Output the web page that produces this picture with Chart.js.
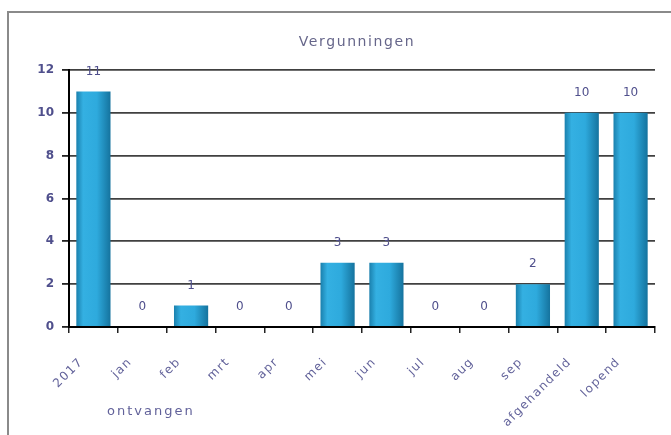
<!DOCTYPE html>
<html>
<head>
<meta charset="utf-8">
<script src="https://cdn.jsdelivr.net/npm/chart.js@4.4.0/dist/chart.umd.min.js"></script>
<style>
html,body{margin:0;padding:0;background:#fff;}
#wrap{position:relative;width:671px;height:435px;overflow:hidden;}
#frame{position:absolute;left:7px;top:11px;width:680px;height:440px;border:2px solid #8a8a8a;box-sizing:border-box;}
canvas{position:absolute;left:0;top:0;}
</style>
</head>
<body>
<div id="wrap">
<div id="frame"></div>
<canvas id="c" width="671" height="435"></canvas>
</div>
<script>
const categories = ["2017","jan","feb","mrt","apr","mei","jun","jul","aug","sep","afgehandeld","lopend"];
const values = [11,0,1,0,0,3,3,0,0,2,10,10];
const yTicks = [0,2,4,6,8,10,12];
const chartTitle = "Vergunningen";
const axisNote = "ontvangen";

const textColor = "#4f4f8c";
const labelColor = "#62629a";

const barGradient = (ctx) => {
  const chart = ctx.chart;
  const xs = chart.scales && chart.scales.x;
  if (!chart.chartArea || !xs) return "#2ba6d6";
  const cx = xs.getPixelForValue(ctx.dataIndex);
  const w = (chart.chartArea.width / categories.length) * 0.7;
  const g = chart.ctx.createLinearGradient(cx - w/2, 0, cx + w/2, 0);
  g.addColorStop(0, "#1a80ad");
  g.addColorStop(0.2, "#34b0e2");
  g.addColorStop(0.6, "#2eaadd");
  g.addColorStop(1, "#15739e");
  return g;
};

const textPlugin = {
  id: "texts",
  afterDatasetsDraw(chart) {
    const c = chart.ctx;
    const meta = chart.getDatasetMeta(0);
    const xs = chart.scales.x;
    const area = chart.chartArea;
    c.save();
    // value labels
    c.fillStyle = textColor;
    c.font = "12px 'DejaVu Sans'";
    c.textAlign = "center";
    c.textBaseline = "middle";
    meta.data.forEach((el, i) => {
      c.fillText(String(values[i]), el.x, el.y - 20);
    });
    // category labels, rotated
    c.fillStyle = labelColor;
    c.font = "12px 'DejaVu Sans'";
    c.letterSpacing = "1.5px";
    c.textAlign = "right";
    c.textBaseline = "middle";
    categories.forEach((lab, i) => {
      const cx = xs.getPixelForValue(i);
      c.save();
      c.translate(cx - 12, area.bottom + 33);
      c.rotate(-Math.PI / 4);
      c.fillText(lab, 0, 0);
      c.restore();
    });
    // title
    c.fillStyle = "#66668a";
    c.font = "14px 'DejaVu Sans'";
    c.letterSpacing = "1.6px";
    c.textAlign = "center";
    c.fillText(chartTitle, 357, 42);
    // note
    c.fillStyle = labelColor;
    c.font = "13px 'DejaVu Sans'";
    c.letterSpacing = "2px";
    c.textAlign = "left";
    c.fillText(axisNote, 107, 412);
    c.restore();
  }
};

new Chart(document.getElementById("c"), {
  type: "bar",
  data: {
    labels: categories,
    datasets: [{
      data: values,
      backgroundColor: barGradient,
      borderWidth: 0,
      categoryPercentage: 0.7,
      barPercentage: 1.0
    }]
  },
  options: {
    responsive: false,
    animation: false,
    devicePixelRatio: 1,
    layout: { padding: { left: 0, right: 16, top: 70, bottom: 0 } },
    plugins: {
      legend: { display: false },
      tooltip: { enabled: false },
      title: { display: false }
    },
    scales: {
      y: {
        min: 0, max: 12,
        afterBuildTicks: (s) => { s.ticks = yTicks.map(v => ({ value: v })); },
        afterFit: (s) => { s.width = 69; },
        ticks: {
          color: textColor,
          font: { family: "DejaVu Sans", size: 12, weight: "bold" },
          padding: 8
        },
        grid: { color: "#404040", lineWidth: 1.8, tickLength: 7, drawTicks: true, tickColor: "#222" },
        border: { color: "#000", width: 2 }
      },
      x: {
        afterFit: (s) => { s.height = 108; },
        ticks: { display: false },
        grid: { offset: true, drawOnChartArea: false, tickLength: 6, tickColor: "#222", lineWidth: 1.5 },
        border: { color: "#000", width: 2 }
      }
    }
  },
  plugins: [textPlugin]
});
</script>
</body>
</html>
